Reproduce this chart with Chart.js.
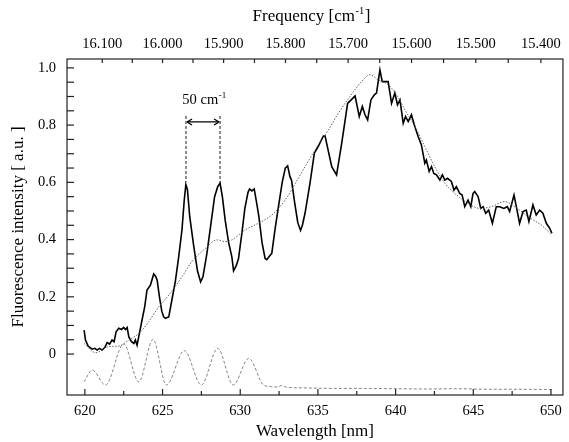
<!DOCTYPE html>
<html>
<head>
<meta charset="utf-8">
<script src="https://cdn.jsdelivr.net/npm/chart.js@4.4.1/dist/chart.umd.min.js"></script>
<style>
  html, body { margin: 0; padding: 0; background: #fff; }
  #wrap { width: 569px; height: 442px; }
</style>
</head>
<body>
<div id="wrap"><canvas id="spectrum"></canvas></div>
<script>
// axis ticks
var wavelengthTicks = [620, 625, 630, 635, 640, 645, 650];          // nm
var frequencyTicks = [16100, 16000, 15900, 15800, 15700, 15600, 15500, 15400]; // cm-1
var intensityTicks = [0, 0.2, 0.4, 0.6, 0.8, 1.0];

// measured fluorescence spectrum (thick black line)
var measuredX = [619.95, 620.04, 620.21, 620.47, 620.64, 620.79, 620.94, 621.11, 621.28, 621.43,
  621.59, 621.75, 621.88, 622.01, 622.18, 622.36, 622.50, 622.61, 622.72, 622.83,
  623.00, 623.15, 623.25, 623.36, 623.51, 623.68, 623.85, 624.00, 624.22, 624.43,
  624.55, 624.65, 624.80, 624.95, 625.07, 625.18, 625.30, 625.40, 625.60, 625.82,
  626.04, 626.25, 626.40, 626.50, 626.60, 626.75, 627.00, 627.25, 627.45, 627.60,
  627.85, 628.10, 628.35, 628.55, 628.70, 628.85, 629.03, 629.25, 629.46, 629.57,
  629.75, 629.89, 630.10, 630.30, 630.50, 630.60, 630.75, 630.90, 631.05, 631.20,
  631.40, 631.60, 631.71, 631.85, 632.03, 632.25, 632.46, 632.70, 632.90, 633.05,
  633.20, 633.30, 633.50, 633.70, 633.88, 634.00, 634.17, 634.49, 634.77, 635.03,
  635.35, 635.46, 635.89, 636.20, 636.53, 636.91, 637.17, 637.39, 637.66, 637.86,
  638.03, 638.20, 638.41, 638.63, 638.77, 638.99, 639.14, 639.42, 639.52, 639.74,
  639.95, 640.12, 640.28, 640.49, 640.64, 640.81, 641.02, 641.20, 641.45, 641.66,
  641.88, 641.98, 642.16, 642.31, 642.46, 642.63, 642.85, 643.01, 643.17, 643.34,
  643.59, 643.76, 643.91, 644.13, 644.28, 644.45, 644.66, 644.84, 644.98, 645.09,
  645.31, 645.48, 645.63, 645.80, 645.99, 646.23, 646.48, 646.70, 646.97, 647.19,
  647.34, 647.62, 647.77, 647.98, 648.20, 648.41, 648.58, 648.84, 649.05, 649.27,
  649.48, 649.70, 649.92, 650.06];
var measuredY = [0.084, 0.049, 0.028, 0.017, 0.020, 0.014, 0.020, 0.014, 0.023, 0.040,
  0.035, 0.049, 0.043, 0.078, 0.090, 0.086, 0.093, 0.086, 0.093, 0.060,
  0.043, 0.037, 0.049, 0.031, 0.072, 0.119, 0.165, 0.224, 0.241, 0.280,
  0.272, 0.259, 0.200, 0.150, 0.130, 0.125, 0.128, 0.130, 0.189, 0.253,
  0.340, 0.434, 0.540, 0.592, 0.575, 0.480, 0.380, 0.290, 0.252, 0.270,
  0.350, 0.450, 0.550, 0.585, 0.597, 0.550, 0.468, 0.390, 0.340, 0.291,
  0.310, 0.334, 0.420, 0.510, 0.565, 0.577, 0.570, 0.577, 0.530, 0.480,
  0.390, 0.334, 0.330, 0.340, 0.352, 0.440, 0.515, 0.600, 0.650, 0.658,
  0.620, 0.608, 0.530, 0.460, 0.432, 0.450, 0.492, 0.597, 0.702, 0.727,
  0.762, 0.762, 0.655, 0.626, 0.736, 0.876, 0.890, 0.902, 0.830, 0.865,
  0.836, 0.818, 0.888, 0.906, 0.912, 0.993, 0.952, 0.952, 0.952, 0.876,
  0.912, 0.871, 0.888, 0.806, 0.830, 0.813, 0.836, 0.801, 0.760, 0.731,
  0.667, 0.678, 0.638, 0.655, 0.631, 0.626, 0.608, 0.626, 0.608, 0.614,
  0.603, 0.573, 0.585, 0.561, 0.556, 0.515, 0.538, 0.515, 0.561, 0.568,
  0.550, 0.509, 0.515, 0.492, 0.503, 0.457, 0.515, 0.515, 0.509, 0.515,
  0.498, 0.556, 0.515, 0.457, 0.498, 0.503, 0.463, 0.521, 0.486, 0.503,
  0.492, 0.457, 0.439, 0.422];

// smooth envelope (thin dotted line)
var envelopeX = [619.95, 620.69, 621.54, 622.18, 622.83, 623.47, 624.11, 624.75, 625.40, 626.25,
  626.89, 627.75, 628.50, 629.03, 629.46, 630.32, 631.17, 632.03, 632.89, 633.74,
  634.17, 634.90, 635.67, 636.31, 637.06, 637.81, 638.35, 638.88, 639.52, 640.06,
  640.60, 641.24, 641.88, 642.52, 643.17, 643.81, 644.66, 645.41, 646.16, 647.02,
  647.66, 648.52, 649.37, 650.06];
var envelopeY = [0.037, 0.005, 0.026, 0.028, 0.049, 0.072, 0.113, 0.165, 0.206, 0.270,
  0.323, 0.369, 0.399, 0.393, 0.399, 0.434, 0.457, 0.486, 0.538, 0.614,
  0.655, 0.720, 0.783, 0.841, 0.900, 0.952, 0.976, 0.958, 0.941, 0.906,
  0.853, 0.795, 0.725, 0.655, 0.597, 0.561, 0.527, 0.509, 0.515, 0.533,
  0.515, 0.480, 0.451, 0.416];

// oscillating component (thin dashed line, shifted down)
var residualX = [619.95, 620.47, 621.33, 622.50, 623.47, 624.39, 625.25, 626.40, 627.50, 628.55,
  629.55, 630.55, 631.50, 632.00, 632.40, 632.67, 633.00, 634.00, 636.00, 638.00,
  640.00, 642.00, 644.00, 646.00, 648.00, 650.06];
var residualY = [-0.097, -0.056, -0.108, 0.035, -0.097, 0.051, -0.108, 0.012, -0.108, 0.020,
  -0.108, -0.015, -0.108, -0.114, -0.115, -0.110, -0.116, -0.118, -0.120, -0.120,
  -0.121, -0.122, -0.121, -0.123, -0.123, -0.124];

// 50 cm-1 spacing marker between two neighbouring peaks
var spacingPeaks = [626.51, 628.70];

var serif = 'Liberation Serif, Times New Roman, serif';

function toPoints(xs, ys) {
  var pts = [];
  for (var i = 0; i < xs.length; i++) { pts.push({ x: xs[i], y: ys[i] }); }
  return pts;
}

function midpoints(arr) {
  var out = [];
  for (var i = 0; i < arr.length - 1; i++) { out.push((arr[i] + arr[i + 1]) / 2); }
  return out;
}

function freqLabel(f) {
  var s = String(f);
  return s.slice(0, s.length - 3) + '.' + s.slice(s.length - 3);
}

function superText(c, parts, x, y, size, supSize) {
  // parts: [normal, superscript, normal]; centred on x
  c.font = size + 'px ' + serif;
  var w0 = c.measureText(parts[0]).width;
  var w2 = c.measureText(parts[2]).width;
  c.font = supSize + 'px ' + serif;
  var w1 = c.measureText(parts[1]).width;
  var x0 = x - (w0 + w1 + w2) / 2;
  c.textBaseline = 'middle';
  c.textAlign = 'left';
  c.font = size + 'px ' + serif;
  c.fillText(parts[0], x0, y);
  c.font = supSize + 'px ' + serif;
  c.fillText(parts[1], x0 + w0 + 0.5, y - size * 0.32);
  c.font = size + 'px ' + serif;
  c.fillText(parts[2], x0 + w0 + w1 + 1, y);
}

var axisMarks = {
  id: 'axisMarks',
  afterDraw: function (chart) {
    var c = chart.ctx, a = chart.chartArea;
    var sx = chart.scales.x, sy = chart.scales.y;
    c.save();
    c.strokeStyle = '#222';
    c.lineWidth = 1.2;
    c.strokeRect(a.left, a.top, a.right - a.left, a.bottom - a.top);

    function tick(x1, y1, x2, y2) {
      c.beginPath(); c.moveTo(x1, y1); c.lineTo(x2, y2); c.stroke();
    }
    // bottom: wavelength
    wavelengthTicks.forEach(function (v) { var p = sx.getPixelForValue(v); tick(p, a.bottom, p, a.bottom - 6); });
    midpoints(wavelengthTicks).forEach(function (v) { var p = sx.getPixelForValue(v); tick(p, a.bottom, p, a.bottom - 4); });
    // top: frequency
    frequencyTicks.forEach(function (f) { var p = sx.getPixelForValue(1e7 / f); tick(p, a.top, p, a.top + 4); });
    midpoints(frequencyTicks).forEach(function (f) { var p = sx.getPixelForValue(1e7 / f); tick(p, a.top, p, a.top + 4); });
    // left: intensity
    for (var v = 0; v <= 1.0001; v += 0.05) {
      var py = sy.getPixelForValue(v);
      tick(a.left, py, a.left + 7, py);
    }

    // spacing marker
    var xa = sx.getPixelForValue(spacingPeaks[0]);
    var xb = sx.getPixelForValue(spacingPeaks[1]);
    var yTop = sy.getPixelForValue(0.832);
    var yBot = sy.getPixelForValue(0.60);
    var yArr = sy.getPixelForValue(0.811);
    c.strokeStyle = '#000';
    c.lineWidth = 0.9;
    c.setLineDash([3, 2]);
    tick(xa, yTop, xa, yBot);
    tick(xb, yTop, xb, yBot);
    c.setLineDash([]);
    c.lineWidth = 1.3;
    tick(xa + 1, yArr, xb - 1, yArr);
    tick(xa + 1, yArr, xa + 6, yArr - 3);
    tick(xa + 1, yArr, xa + 6, yArr + 3);
    tick(xb - 1, yArr, xb - 6, yArr - 3);
    tick(xb - 1, yArr, xb - 6, yArr + 3);

    c.fillStyle = '#000';
    superText(c, ['50 cm', '-1', ''], (xa + xb) / 2 + 1, sy.getPixelForValue(0.888), 14.5, 9);

    // top axis title
    superText(c, ['Frequency [cm', '-1', ']'], (a.left + a.right) / 2 - 4, 17, 17, 10.5);
    c.restore();
  }
};

var ctx = document.getElementById('spectrum');
new Chart(ctx, {
  type: 'line',
  data: {
    datasets: [
      {
        data: toPoints(envelopeX, envelopeY),
        borderColor: '#555',
        borderWidth: 0.9,
        borderDash: [1.5, 1.5],
        pointRadius: 0,
        tension: 0.4,
        cubicInterpolationMode: 'monotone'
      },
      {
        data: toPoints(residualX, residualY),
        borderColor: '#777',
        borderWidth: 0.9,
        borderDash: [3, 2],
        pointRadius: 0,
        tension: 0.4,
        cubicInterpolationMode: 'monotone'
      },
      {
        data: toPoints(measuredX, measuredY),
        borderColor: '#000',
        borderWidth: 1.6,
        pointRadius: 0,
        tension: 0
      }
    ]
  },
  options: {
    responsive: true,
    maintainAspectRatio: false,
    animation: false,
    layout: { padding: { left: 0, right: 4, top: 0, bottom: 0 } },
    plugins: {
      legend: { display: false },
      tooltip: { enabled: false }
    },
    scales: {
      x: {
        type: 'linear',
        position: 'bottom',
        min: 618.85,
        max: 650.77,
        afterBuildTicks: function (s) { s.ticks = wavelengthTicks.map(function (v) { return { value: v }; }); },
        afterFit: function (s) { s.height = 47; },
        grid: { display: false, drawTicks: false },
        border: { display: false },
        ticks: {
          padding: 7,
          maxRotation: 0,
          autoSkip: false,
          color: '#000',
          font: { family: serif, size: 14.5 },
          callback: function (v) { return String(v); }
        },
        title: {
          display: true,
          text: 'Wavelength [nm]',
          color: '#000',
          font: { family: serif, size: 17 },
          padding: 0
        }
      },
      xTop: {
        type: 'linear',
        position: 'top',
        min: 618.85,
        max: 650.77,
        afterBuildTicks: function (s) { s.ticks = frequencyTicks.map(function (f) { return { value: 1e7 / f }; }); },
        afterFit: function (s) { s.height = 59; },
        grid: { display: false, drawTicks: false },
        border: { display: false },
        ticks: {
          padding: 6,
          maxRotation: 0,
          autoSkip: false,
          color: '#000',
          font: { family: serif, size: 14.5 },
          callback: function (v) { return freqLabel(Math.round(1e7 / v)); }
        }
      },
      y: {
        type: 'linear',
        min: -0.143,
        max: 1.031,
        afterBuildTicks: function (s) { s.ticks = intensityTicks.map(function (v) { return { value: v }; }); },
        afterFit: function (s) { s.width = 67; },
        grid: { display: false, drawTicks: false },
        border: { display: false },
        ticks: {
          padding: 11,
          color: '#000',
          font: { family: serif, size: 14.5 },
          callback: function (v) { return v === 0 ? '0' : v.toFixed(1); }
        },
        title: {
          display: true,
          text: 'Fluorescence intensity [ a.u. ]',
          color: '#000',
          font: { family: serif, size: 17 },
          padding: { top: 8, bottom: 0 }
        }
      }
    }
  },
  plugins: [axisMarks]
});
</script>
</body>
</html>
